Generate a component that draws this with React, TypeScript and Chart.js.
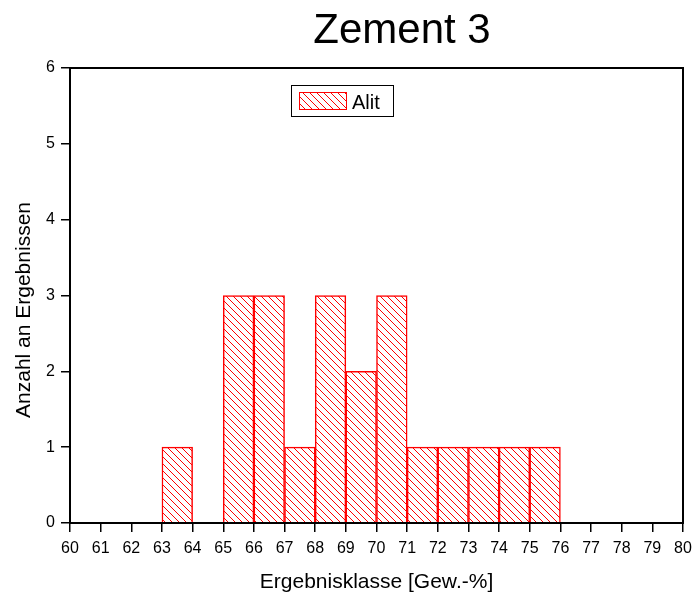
import React, { useEffect, useRef } from "react";
import { Chart, registerables } from "chart.js";

Chart.register(...registerables);

const titleText = "Zement 3";
const xAxisTitle = "Ergebnisklasse [Gew.-%]";
const yAxisTitle = "Anzahl an Ergebnissen";
const seriesLabel = "Alit";
const binStarts = [63, 65, 66, 67, 68, 69, 70, 71, 72, 73, 74, 75];
const counts = [1, 3, 3, 1, 3, 2, 3, 1, 1, 1, 1, 1];
const binWidth = 1;
const xMin = 60;
const xMax = 80;
const yMin = 0;
const yMax = 6;

const FONT = "'Liberation Sans', Arial, sans-serif";

function makeHatch(): CanvasPattern | string {
  const p = 7;
  const c = document.createElement("canvas");
  c.width = p;
  c.height = p;
  const g = c.getContext("2d");
  if (!g) return "#fff";
  g.fillStyle = "#ffffff";
  g.fillRect(0, 0, p, p);
  g.strokeStyle = "#ff0000";
  g.lineWidth = 1;
  for (let k = -1; k <= 1; k++) {
    g.beginPath();
    g.moveTo(k * p, 0);
    g.lineTo(k * p + p, p);
    g.stroke();
  }
  const pat = g.createPattern(c, "repeat");
  return pat || "#fff";
}

const decorPlugin = {
  id: "decor",
  afterDatasetsDraw(chart: any) {
    const ctx = chart.ctx as CanvasRenderingContext2D;
    const a = chart.chartArea;
    ctx.save();
    ctx.strokeStyle = "#000";
    ctx.lineWidth = 2;
    ctx.strokeRect(a.left, a.top, a.right - a.left, a.bottom - a.top);
    ctx.fillStyle = "#000";
    ctx.font = `42px ${FONT}`;
    ctx.textAlign = "center";
    ctx.textBaseline = "alphabetic";
    ctx.fillText(titleText, 402, 43);
    ctx.font = `21px ${FONT}`;
    ctx.fillText(xAxisTitle, (a.left + a.right) / 2, 588);
    ctx.save();
    ctx.translate(30, 310);
    ctx.rotate(-Math.PI / 2);
    ctx.fillText(yAxisTitle, 0, 0);
    ctx.restore();
    const lx = 291, ly = 85, lw = 102, lh = 31;
    ctx.fillStyle = "#fff";
    ctx.fillRect(lx, ly, lw, lh);
    ctx.strokeStyle = "#000";
    ctx.lineWidth = 1;
    ctx.strokeRect(lx + 0.5, ly + 0.5, lw, lh);
    const ds = chart.data.datasets[0];
    ctx.fillStyle = ds.backgroundColor;
    ctx.fillRect(299, 92, 48, 18);
    ctx.strokeStyle = "#ff0000";
    ctx.lineWidth = 1;
    ctx.strokeRect(299.5, 92.5, 47, 17);
    ctx.fillStyle = "#000";
    ctx.font = `20px ${FONT}`;
    ctx.textAlign = "left";
    ctx.fillText(ds.label, 352, 109);
    ctx.restore();
  },
};

export default function App() {
  const ref = useRef<HTMLCanvasElement | null>(null);
  useEffect(() => {
    if (!ref.current) return;
    const hatch = makeHatch();
    const chart = new Chart(ref.current, {
      type: "bar",
      data: {
        datasets: [
          {
            label: seriesLabel,
            data: binStarts.map((s, i) => ({ x: s + binWidth / 2, y: counts[i] })),
            backgroundColor: hatch as any,
            borderColor: "#ff0000",
            borderWidth: 1.5,
            borderSkipped: "start",
            barPercentage: 1,
            categoryPercentage: 1,
          },
        ],
      },
      options: {
        animation: false,
        responsive: true,
        maintainAspectRatio: false,
        layout: { padding: { top: 68, right: 12, left: 0, bottom: 0 } },
        plugins: {
          legend: { display: false },
          title: { display: false },
          tooltip: { enabled: false },
        },
        scales: {
          x: {
            type: "linear",
            min: xMin,
            max: xMax,
            offset: false,
            afterFit: (s: any) => {
              s.height = 72;
              s.paddingRight = 0;
              s.paddingLeft = 0;
            },
            ticks: {
              stepSize: 1,
              autoSkip: false,
              maxRotation: 0,
              color: "#000",
              font: { family: FONT, size: 16 },
              padding: 7,
              callback: (v: any) => String(v),
            },
            grid: {
              display: true,
              offset: false,
              drawOnChartArea: false,
              drawTicks: true,
              tickLength: 9,
              color: "#000",
              lineWidth: 1.5,
            },
            border: { display: true, color: "#000", width: 2 },
          },
          y: {
            type: "linear",
            min: yMin,
            max: yMax,
            afterFit: (s: any) => {
              s.width = 70;
              s.paddingTop = 0;
              s.paddingBottom = 0;
            },
            ticks: {
              stepSize: 1,
              color: "#000",
              font: { family: FONT, size: 16 },
              padding: 6,
              callback: (v: any) => String(v),
            },
            grid: {
              display: true,
              drawOnChartArea: false,
              drawTicks: true,
              tickLength: 9,
              color: "#000",
              lineWidth: 1.5,
            },
            border: { display: true, color: "#000", width: 2 },
          },
        },
      },
      plugins: [decorPlugin],
    });
    return () => chart.destroy();
  }, []);
  return (
    <div style={{ position: "fixed", left: 0, top: 0, width: 695, height: 595, background: "#fff" }}>
      <canvas ref={ref} />
    </div>
  );
}
